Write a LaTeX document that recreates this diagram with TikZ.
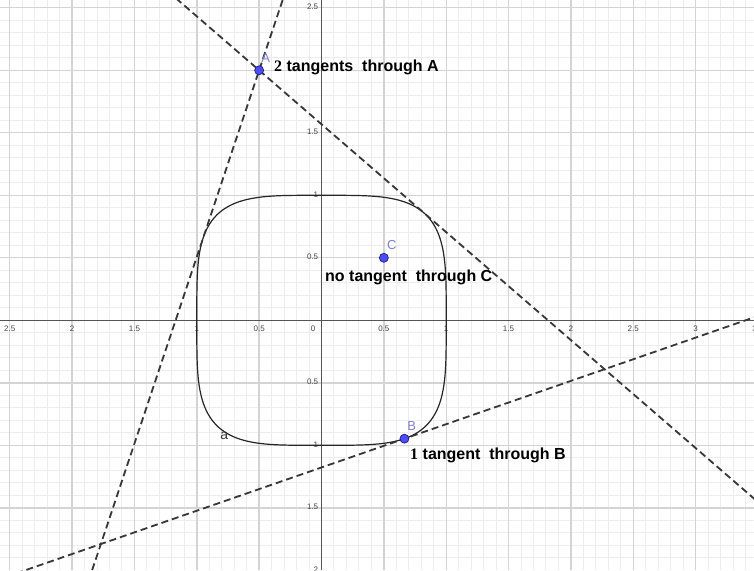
\documentclass[tikz,border=0pt]{standalone}
\usepackage{fontspec}
\setmainfont{Liberation Sans}
\newfontfamily\serifbf{Liberation Serif}
\definecolor{ptfill}{RGB}{77,77,255}
\definecolor{ptdraw}{RGB}{30,30,130}
\definecolor{ptlabel}{RGB}{128,128,200}
\definecolor{majorgrid}{RGB}{212,212,212}
\definecolor{minorgrid}{RGB}{237,237,237}
\definecolor{axiscol}{RGB}{85,85,85}
\definecolor{tickcol}{RGB}{70,70,70}
\definecolor{tangcol}{RGB}{55,55,55}
\begin{document}
\begin{tikzpicture}[x=124.7pt,y=125pt,
  minorline/.style={draw=minorgrid,line width=1pt},
  majorline/.style={draw=majorgrid,line width=1.4pt},
  axisline/.style={draw=axiscol,line width=1.4pt},
  tangentline/.style={draw=tangcol,line width=1.8pt,dash pattern=on 7pt off 4pt},
  curveline/.style={draw=black!85,line width=1.2pt},
  pt/.style={circle,fill=ptfill,draw=ptdraw,line width=0.7pt,inner sep=0pt,minimum size=9pt},
  ptlab/.style={text=ptlabel,font=\fontsize{13}{15}\selectfont,inner sep=0pt},
  curvelab/.style={text=black!80,font=\fontsize{14}{16}\selectfont,inner sep=0pt},
  ticklab/.style={text=tickcol,font=\fontsize{8}{9}\selectfont,inner sep=0pt},
  caption/.style={font=\fontsize{16}{19}\selectfont\bfseries,inner sep=0pt,anchor=west}]
\def\xmin{-2.5782}\def\xmax{3.4683}\def\ymin{-1.9976}\def\ymax{2.5624}
\useasboundingbox (\xmin,\ymin) rectangle (\xmax,\ymax);
\fill[white] (\xmin,\ymin) rectangle (\xmax,\ymax);
\clip (\xmin,\ymin) rectangle (\xmax,\ymax);
% grid
\foreach \i in {-25,...,34} {\draw[minorline] (\i/10,\ymin) -- (\i/10,\ymax);}
\foreach \j in {-19,...,25} {\draw[minorline] (\xmin,\j/10) -- (\xmax,\j/10);}
\foreach \i in {-5,...,6} {\draw[majorline] (\i/2,\ymin) -- (\i/2,\ymax);}
\foreach \j in {-3,...,5} {\draw[majorline] (\xmin,\j/2) -- (\xmax,\j/2);}
% axes
\coordinate (xl) at (\xmin,0); \coordinate (xr) at (\xmax,0);
\coordinate (yb) at (0,\ymin); \coordinate (yt) at (0,\ymax);
\draw[axisline] (xl) -- (xr);
\draw[axisline] (yb) -- (yt);
% tick labels
\foreach \v/\t [count=\k] in {-2.5/2.5,-2/2,-1.5/1.5,-1/1,-0.5/0.5,0.5/0.5,1/1,1.5/1.5,2/2,2.5/2.5,3/3,3.5/3.5}
  {\node[ticklab] (xt\k) at (\v,-0.064) {\t};}
\node[ticklab] (orig) at (-0.068,-0.071) {0};
\foreach \v/\t [count=\k] in {2.5/2.5,1.5/1.5,1/1,0.5/0.5,-0.5/0.5,-1/1,-1.5/1.5,-2/2}
  {\node[ticklab,anchor=east] (yt\k) at (-0.025,\v+0.006) {\t};}
% curve x^4+y^4=1
\draw[curveline] plot[domain=0:360,samples=721,variable=\t]
  ({sign(cos(\t))*sqrt(abs(cos(\t)))},{sign(sin(\t))*sqrt(abs(sin(\t)))}) -- cycle;
\node[curvelab] (alab) at (-0.78,-0.92) {a};
% tangent lines
\coordinate (A) at (-0.5,2);
\coordinate (B) at (0.665,-0.94704);
\coordinate (C) at (0.5,0.5);
\coordinate (T1) at (0.81958,0.86071);
\coordinate (T2) at (-0.94908,0.6591);
\coordinate (e1a) at (-1.3,2.6907);
\coordinate (e1b) at (3.6,-1.5398);
\coordinate (e2a) at (-0.2,2.8957);
\coordinate (e2b) at (-1.9,-2.18);
\coordinate (e3a) at (-2.7,-2.112);
\coordinate (e3b) at (3.6,0.06906);
\draw[tangentline] (e1a) -- (A) -- (T1) -- (e1b);
\draw[tangentline] (e2a) -- (A) -- (T2) -- (e2b);
\draw[tangentline] (e3a) -- (B) -- (e3b);
% points
\node[pt] (pA) at (A) {};
\node[pt] (pB) at (B) {};
\node[pt] (pC) at (C) {};
\node[ptlab] (lA) at (-0.448,2.098) {A};
\node[ptlab] (lB) at (0.723,-0.846) {B};
\node[ptlab] (lC) at (0.563,0.602) {C};
% captions
\node[caption] (capA) at (-0.381,2.026) {{\serifbf\bfseries 2} tangents~ through A};
\node[caption] (capC) at (0.028,0.341) {no tangent~ through C};
\node[caption] (capB) at (0.710,-1.078) {{\serifbf\bfseries 1} tangent~ through B};
\end{tikzpicture}
\end{document}
